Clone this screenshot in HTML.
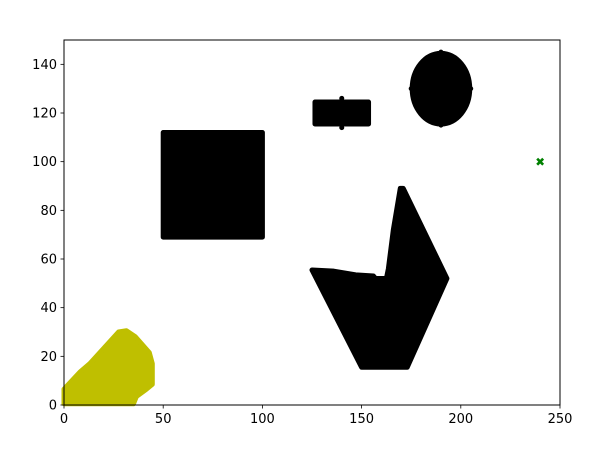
<!DOCTYPE html>
<html><head><meta charset="utf-8"><style>
html,body{margin:0;padding:0;background:#fff;}
svg text{font-family:"DejaVu Sans","Liberation Sans",sans-serif;font-size:13px;fill:#000;}
</style></head><body>
<svg id="chart" width="608" height="460" viewBox="0 0 608 460" xmlns="http://www.w3.org/2000/svg"></svg>
<script>
const xTicks=[0,50,100,150,200,250];
const yTicks=[0,20,40,60,80,100,120,140];
const rectShape=[[50,69],[100,69],[100,112],[50,112]];
const pillShape=[[126.5,115.5],[153.5,115.5],[153.5,124.5],[126.5,124.5]];
const ellipseShape={cx:190,cy:130,rx:14.5,ry:14.5};
const kiteShape=[[125,55.5],[136,55],[147,53.5],[156,53],[157,52],[162.5,52],[163.5,56],[166,72],[169.5,89],[171,89],[193,52],[173,15.5],[150,15.5]];
const yellowShape=[[0,0.5],[0,6.5],[8,13.5],[13,17],[27.5,30],[31.5,30.5],[36,28],[43,21.5],[44.5,17],[44.5,8.5],[41.5,6.5],[36.5,3.5],[35,0.5]];
const greenPoint=[240,100];

const L=64,R=560,T=40,B=405,xMax=250,yMax=150;
const sx=v=>L+v/xMax*(R-L), sy=v=>B-v/yMax*(B-T);
const svg=document.getElementById('chart');
const NS='http://www.w3.org/2000/svg';
function mk(tag,attrs,parent){const e=document.createElementNS(NS,tag);for(const k in attrs)e.setAttribute(k,attrs[k]);(parent||svg).appendChild(e);return e;}

function poly(pts,color,name){
  const e=mk('polygon',{points:pts.map(p=>sx(p[0])+','+sy(p[1])).join(' '),fill:color,stroke:color,'stroke-width':5,'stroke-linejoin':'round'});
  
  
}
poly(yellowShape,'#bfbf00','yellow-cluster');
poly(rectShape,'#000','rectangle-cluster');
poly(pillShape,'#000','pill-cluster');
poly(kiteShape,'#000','kite-cluster');
const el=mk('ellipse',{cx:sx(ellipseShape.cx),cy:sy(ellipseShape.cy),rx:ellipseShape.rx*(R-L)/xMax,ry:ellipseShape.ry*(B-T)/yMax,fill:'#000',stroke:'#000','stroke-width':5});


[[140,126],[140,114]].forEach(p=>{mk('circle',{cx:sx(p[0]),cy:sy(p[1]),r:2.5,fill:'#000'});});
[[190,145],[190,115],[175,130],[205,130]].forEach(p=>{mk('circle',{cx:sx(p[0]),cy:sy(p[1]),r:2.5,fill:'#000'});});

const g=mk('g',{});


const gx=sx(greenPoint[0]),gy=sy(greenPoint[1]);
mk('path',{d:`M${gx-3} ${gy-3}L${gx+3} ${gy+3}M${gx+3} ${gy-3}L${gx-3} ${gy+3}`,stroke:'#008000','stroke-width':2.6},g);

const frame=mk('rect',{x:L,y:T,width:R-L,height:B-T,fill:'none',stroke:'#000','stroke-width':1});



xTicks.forEach(v=>{
  const x=sx(v);
  mk('line',{x1:x,x2:x,y1:B,y2:B+3.5,stroke:'#000','stroke-width':0.8});
  const t=mk('text',{x:x,y:B+18,'text-anchor':'middle'});t.textContent=v;
  
  
});
yTicks.forEach(v=>{
  const y=sy(v);
  mk('line',{x1:L-3.5,x2:L,y1:y,y2:y,stroke:'#000','stroke-width':0.8});
  const t=mk('text',{x:L-7,y:y+4.5,'text-anchor':'end'});t.textContent=v;
  
  
});
</script>
</body></html>
